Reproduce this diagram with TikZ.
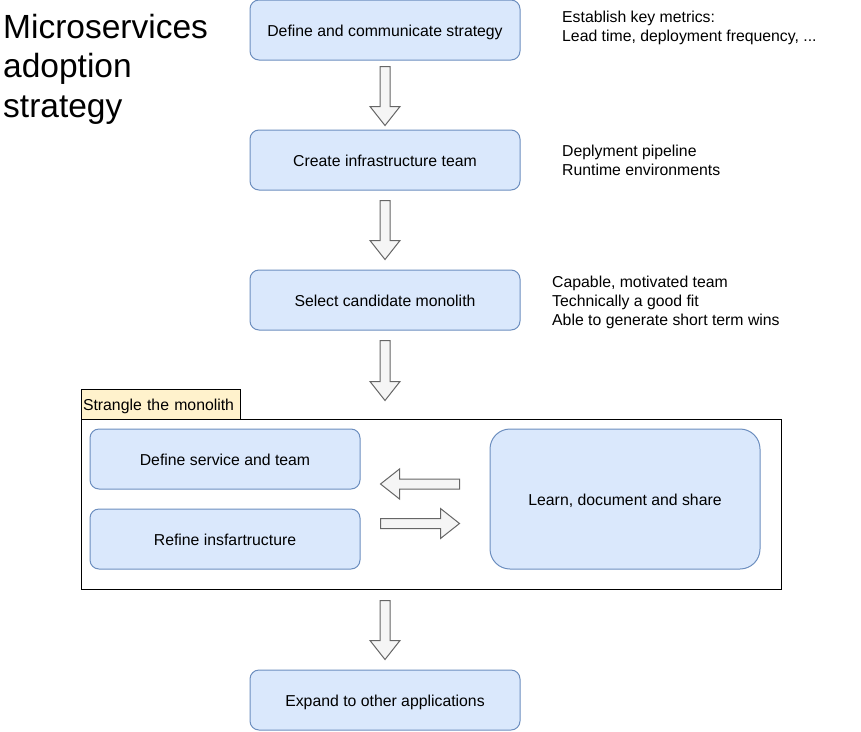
\documentclass[tikz,border=0pt]{standalone}
\usepackage{fontspec}
\setmainfont{Liberation Sans}
\usetikzlibrary{calc}
\definecolor{boxfill}{HTML}{DAE8FC}
\definecolor{boxline}{HTML}{6C8EBF}
\definecolor{arrfill}{HTML}{F5F5F5}
\definecolor{arrline}{HTML}{666666}
\definecolor{lblfill}{HTML}{FFF2CC}
\newcommand\blockarr[2]{%
  \coordinate (bah) at ($(#2)!19pt!(#1)$);
  \draw[blockarrow] ($(#1)!5pt!90:(#2)$) -- ($(bah)!5pt!90:(#2)$) -- ($(bah)!15pt!90:(#2)$) -- (#2)
    -- ($(bah)!15pt!-90:(#2)$) -- ($(bah)!5pt!-90:(#2)$) -- ($(#1)!5pt!-90:(#2)$) -- cycle;}
\begin{document}
\begin{tikzpicture}[x=1pt,y=-1pt,
  bodyfont/.style={font=\fontsize{15.8}{19}\selectfont},
  stepbox/.style={draw=boxline, fill=boxfill, line width=1pt, rounded corners=9pt,
    minimum width=270pt, minimum height=60pt, inner sep=0pt, bodyfont,
    text height=15pt, text depth=2pt},
  bigbox/.style={stepbox, minimum height=140pt, rounded corners=20pt},
  blockarrow/.style={draw=arrline, fill=arrfill, line width=1pt, line join=miter},
  note/.style={bodyfont, anchor=north west, inner sep=0pt, align=left},
  container/.style={draw=black, line width=1pt, minimum width=700pt, minimum height=170pt, inner sep=0pt},
  lblbox/.style={draw=black, fill=lblfill, line width=1pt, minimum width=159pt, minimum height=30pt,
    inner xsep=2pt, inner ysep=0pt, text width=155pt, align=left, bodyfont,
    text height=15pt, text depth=2pt}]
\useasboundingbox (0,0) rectangle (861,731);

\node[anchor=north west, inner sep=0pt, align=left, font=\fontsize{33.5}{39.5}\selectfont]
  (title) at (3,14) {Microservices\\adoption\\strategy};

\node[stepbox] (s1) at (385,30) {Define and communicate strategy};
\node[stepbox] (s2) at (385,160) {Create infrastructure team};
\node[stepbox] (s3) at (385,300) {Select candidate monolith};

\node[note] (n1) at (562,10.6) {Establish key metrics:\\Lead time, deployment frequency, ...};
\node[note] (n2) at (562,144.6) {Deplyment pipeline\\Runtime environments};
\node[note] (n3) at (552,275.6) {Capable, motivated team\\Technically a good fit\\Able to generate short term wins};

\node[container] (strangle) at (431,504) {};
\node[lblbox] (lbl) at (160.5,404) {Strangle the monolith};
\node[stepbox] (def) at (225,459) {Define service and team};
\node[stepbox] (ref) at (225,539) {Refine insfartructure};
\node[bigbox] (learn) at (625,499) {Learn, document and share};

\node[stepbox] (exp) at (385,700) {Expand to other applications};

\coordinate (a1s) at ($(s1.south)+(0,6)$);
\coordinate (a1e) at ($(s2.north)+(0,-4)$);
\coordinate (a2s) at ($(s2.south)+(0,10)$);
\coordinate (a2e) at ($(s3.north)+(0,-10)$);
\coordinate (a3s) at ($(s3.south)+(0,10)$);
\coordinate (a3e) at ($(s3.south)+(0,70)$);
\coordinate (a4s) at ($(strangle.south)+(-46,11)$);
\coordinate (a4e) at ($(exp.north)+(0,-10)$);
\coordinate (hls) at ($(learn.west)+(-30,-15)$);
\coordinate (hle) at ($(def.east)+(20,25)$);
\coordinate (hrs) at ($(ref.east)+(20,-15.5)$);
\coordinate (hre) at ($(learn.west)+(-30,24.5)$);

\blockarr{a1s}{a1e}
\blockarr{a2s}{a2e}
\blockarr{a3s}{a3e}
\blockarr{a4s}{a4e}
\blockarr{hls}{hle}
\blockarr{hrs}{hre}
\end{tikzpicture}
\end{document}
